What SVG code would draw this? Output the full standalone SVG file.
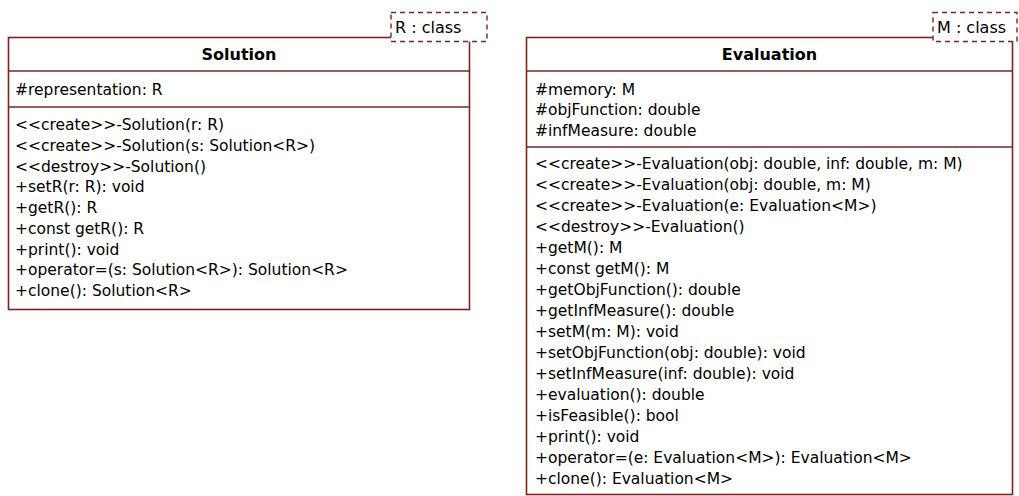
<svg xmlns="http://www.w3.org/2000/svg" width="1019" height="496" viewBox="0 0 1019 496">
<style>
.box{fill:#fff;stroke:#7a2424;stroke-width:1.6}
.ln{stroke:#7a2424;stroke-width:1.6}
.tpl{fill:#fff;stroke:#7a2424;stroke-width:1.4;stroke-dasharray:5,4}
text{font-family:"DejaVu Sans","Liberation Sans",sans-serif;font-size:15.5px;fill:#000}
.title{font-weight:bold;text-anchor:middle;font-size:16px}
.cls{font-size:16px}
</style>
<rect width="1019" height="496" fill="#fff"/>
<g id="Solution">
<rect class="box" x="8.5" y="37.5" width="461" height="272"/>
<line class="ln" x1="8.5" y1="71" x2="469.5" y2="71"/>
<line class="ln" x1="8.5" y1="107" x2="469.5" y2="107"/>
<text class="title" x="239" y="60">Solution</text>
<text x="15" y="95">#representation: R</text>
<text x="15" y="130">&lt;&lt;create&gt;&gt;-Solution(r: R)</text>
<text x="15" y="150.75">&lt;&lt;create&gt;&gt;-Solution(s: Solution&lt;R&gt;)</text>
<text x="15" y="171.5">&lt;&lt;destroy&gt;&gt;-Solution()</text>
<text x="15" y="192.25">+setR(r: R): void</text>
<text x="15" y="213">+getR(): R</text>
<text x="15" y="233.75">+const getR(): R</text>
<text x="15" y="254.5">+print(): void</text>
<text x="15" y="275.25">+operator=(s: Solution&lt;R&gt;): Solution&lt;R&gt;</text>
<text x="15" y="296">+clone(): Solution&lt;R&gt;</text>
<rect class="tpl" x="391" y="12.5" width="96" height="29"/>
<text class="cls" x="395" y="33">R : class</text>
</g>
<g id="Evaluation">
<rect class="box" x="526.5" y="37.5" width="486" height="457"/>
<line class="ln" x1="526.5" y1="71" x2="1012.5" y2="71"/>
<line class="ln" x1="526.5" y1="147" x2="1012.5" y2="147"/>
<text class="title" x="769.5" y="60">Evaluation</text>
<text x="535" y="94.5">#memory: M</text>
<text x="535" y="115">#objFunction: double</text>
<text x="535" y="135.5">#infMeasure: double</text>
<text x="535" y="169">&lt;&lt;create&gt;&gt;-Evaluation(obj: double, inf: double, m: M)</text>
<text x="535" y="190">&lt;&lt;create&gt;&gt;-Evaluation(obj: double, m: M)</text>
<text x="535" y="211">&lt;&lt;create&gt;&gt;-Evaluation(e: Evaluation&lt;M&gt;)</text>
<text x="535" y="232">&lt;&lt;destroy&gt;&gt;-Evaluation()</text>
<text x="535" y="253">+getM(): M</text>
<text x="535" y="274">+const getM(): M</text>
<text x="535" y="295">+getObjFunction(): double</text>
<text x="535" y="316">+getInfMeasure(): double</text>
<text x="535" y="337">+setM(m: M): void</text>
<text x="535" y="358">+setObjFunction(obj: double): void</text>
<text x="535" y="379">+setInfMeasure(inf: double): void</text>
<text x="535" y="400">+evaluation(): double</text>
<text x="535" y="421">+isFeasible(): bool</text>
<text x="535" y="442">+print(): void</text>
<text x="535" y="463">+operator=(e: Evaluation&lt;M&gt;): Evaluation&lt;M&gt;</text>
<text x="535" y="484">+clone(): Evaluation&lt;M&gt;</text>
<rect class="tpl" x="933" y="12.5" width="84" height="29"/>
<text class="cls" x="937" y="33">M : class</text>
</g>
<g id="connectors"></g>
</svg>
